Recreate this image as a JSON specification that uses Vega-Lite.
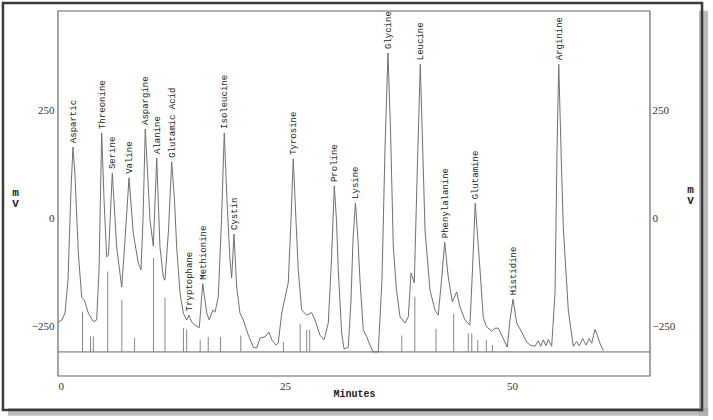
{
  "$schema": "https://vega.github.io/schema/vega-lite/v6.json",
  "width": 592,
  "height": 365,
  "autosize": {"type": "none"},
  "padding": {"left": 58, "top": 11, "right": 63, "bottom": 44},
  "background": "white",
  "config": {
    "view": {"stroke": null},
    "axis": {"grid": false, "ticks": false, "domain": false,
             "labelFont": "Liberation Serif", "labelFontSize": 11, "labelColor": "#333",
             "titleFont": "Liberation Mono", "titleFontWeight": "bold", "titleFontSize": 10, "titleColor": "#222"}
  },
  "datasets": {
    "shadow": [
      {"x1": 70.6, "x2": 71.6, "y1": 480, "y2": -458},
      {"x1": -5.5, "x2": 71.6, "y1": -440, "y2": -458}
    ],
    "one": [{"id": 1}],
    "trace": [
      {"t":0,"v":-241},{"t":0.44,"v":-236},{"t":0.77,"v":-220},{"t":1.10,"v":-144},{"t":1.43,"v":65},{"t":1.65,"v":164},{"t":1.87,"v":100},{"t":2.24,"v":-81},{"t":2.61,"v":-183},{"t":2.90,"v":-190},
      {"t":3.34,"v":-220},{"t":3.89,"v":-240},{"t":4.26,"v":-236},{"t":4.52,"v":-120},{"t":4.81,"v":197},{"t":5.07,"v":42},{"t":5.36,"v":-90},{"t":5.56,"v":-86},{"t":5.98,"v":104},{"t":6.46,"v":-67},
      {"t":7.02,"v":-160},{"t":7.38,"v":-51},{"t":7.82,"v":93},{"t":8.29,"v":-35},{"t":8.84,"v":-104},{"t":9.14,"v":-120},{"t":9.36,"v":-5},{"t":9.61,"v":206},{"t":9.91,"v":88},{"t":10.13,"v":-5},
      {"t":10.50,"v":-65},{"t":10.87,"v":139},{"t":11.23,"v":-67},{"t":11.60,"v":-137},{"t":11.78,"v":-144},{"t":12.17,"v":-28},{"t":12.52,"v":130},{"t":12.83,"v":42},{"t":13.07,"v":-67},{"t":13.44,"v":-174},
      {"t":13.80,"v":-220},{"t":14.17,"v":-236},{"t":14.43,"v":-225},{"t":14.72,"v":-241},{"t":15.09,"v":-248},{"t":15.56,"v":-254},{"t":15.94,"v":-152},{"t":16.38,"v":-220},{"t":16.66,"v":-236},{"t":17.04,"v":-213},
      {"t":17.29,"v":-218},{"t":17.65,"v":-183},{"t":18.01,"v":-5},{"t":18.31,"v":197},{"t":18.61,"v":42},{"t":18.94,"v":-97},{"t":19.13,"v":-139},{"t":19.38,"v":-37},{"t":19.68,"v":-160},{"t":20.04,"v":-220},
      {"t":20.41,"v":-236},{"t":20.96,"v":-271},{"t":21.51,"v":-299},{"t":21.88,"v":-301},{"t":22.25,"v":-278},{"t":22.80,"v":-275},{"t":23.24,"v":-264},{"t":23.54,"v":-282},{"t":24.01,"v":-294},{"t":24.26,"v":-289},
      {"t":24.64,"v":-220},{"t":25.11,"v":-174},{"t":25.36,"v":-150},{"t":25.66,"v":-5},{"t":25.91,"v":137},{"t":26.21,"v":-5},{"t":26.46,"v":-120},{"t":26.84,"v":-213},{"t":27.39,"v":-225},{"t":27.94,"v":-219},
      {"t":28.30,"v":-236},{"t":28.85,"v":-271},{"t":29.30,"v":-282},{"t":29.77,"v":-243},{"t":30.12,"v":-97},{"t":30.43,"v":74},{"t":30.67,"v":-5},{"t":30.87,"v":-120},{"t":31.24,"v":-266},{"t":31.50,"v":-303},
      {"t":31.97,"v":-299},{"t":32.27,"v":-190},{"t":32.49,"v":-51},{"t":32.76,"v":35},{"t":33.04,"v":-51},{"t":33.26,"v":-144},{"t":33.62,"v":-259},{"t":34.00,"v":-275},{"t":34.36,"v":-294},{"t":34.72,"v":-310},
      {"t":35.27,"v":-310},{"t":35.68,"v":-144},{"t":36.01,"v":157},{"t":36.34,"v":382},{"t":36.62,"v":204},{"t":36.93,"v":-67},{"t":37.28,"v":-167},{"t":37.67,"v":-229},{"t":38.22,"v":-243},{"t":38.58,"v":-229},
      {"t":38.88,"v":-127},{"t":39.24,"v":-150},{"t":39.54,"v":88},{"t":39.90,"v":356},{"t":40.14,"v":181},{"t":40.42,"v":-28},{"t":40.97,"v":-167},{"t":41.52,"v":-213},{"t":41.88,"v":-225},{"t":42.24,"v":-144},
      {"t":42.59,"v":-56},{"t":42.98,"v":-137},{"t":43.43,"v":-194},{"t":43.91,"v":-171},{"t":44.27,"v":-206},{"t":44.82,"v":-236},{"t":45.37,"v":-248},{"t":45.65,"v":-120},{"t":45.95,"v":34},{"t":46.20,"v":-39},
      {"t":46.48,"v":-120},{"t":46.84,"v":-231},{"t":47.21,"v":-252},{"t":47.76,"v":-262},{"t":48.13,"v":-255},{"t":48.49,"v":-255},{"t":48.87,"v":-271},{"t":49.48,"v":-299},{"t":49.78,"v":-236},{"t":50.11,"v":-188},
      {"t":50.52,"v":-243},{"t":51.07,"v":-264},{"t":51.62,"v":-287},{"t":51.98,"v":-294},{"t":52.53,"v":-297},{"t":52.90,"v":-284},{"t":53.16,"v":-297},{"t":53.45,"v":-282},{"t":53.74,"v":-296},{"t":54.00,"v":-281},
      {"t":54.37,"v":-297},{"t":54.74,"v":-174},{"t":54.96,"v":157},{"t":55.15,"v":356},{"t":55.40,"v":157},{"t":55.65,"v":-21},{"t":56.20,"v":-213},{"t":56.75,"v":-297},{"t":57.13,"v":-286},{"t":57.41,"v":-296},
      {"t":57.79,"v":-279},{"t":58.15,"v":-294},{"t":58.51,"v":-279},{"t":58.78,"v":-290},{"t":59.14,"v":-258},{"t":59.39,"v":-271},{"t":59.69,"v":-290},{"t":60.06,"v":-307}
    ],
    "peaks": [
      {"name":"Aspartic","t":1.65,"v":164},{"name":"Threonine","t":4.81,"v":197},{"name":"Serine","t":5.98,"v":104},{"name":"Valine","t":7.82,"v":93},
      {"name":"Aspargine","t":9.61,"v":206},{"name":"Alanine","t":10.87,"v":139},{"name":"Glutamic Acid","t":12.52,"v":130},{"name":"Tryptophane","t":14.43,"v":-225},
      {"name":"Methionine","t":15.94,"v":-152},{"name":"Isoleucine","t":18.31,"v":197},{"name":"Cystin","t":19.38,"v":-37},{"name":"Tyrosine","t":25.91,"v":137},
      {"name":"Proline","t":30.43,"v":74},{"name":"Lysine","t":32.76,"v":35},{"name":"Glycine","t":36.34,"v":382},{"name":"Leucine","t":39.90,"v":356},
      {"name":"Phenylalanine","t":42.59,"v":-56},{"name":"Glutamine","t":45.95,"v":34},{"name":"Histidine","t":50.11,"v":-188},{"name":"Arginine","t":55.15,"v":356}
    ],
    "marks": [
      {"t":2.70,"top":-217},{"t":3.58,"top":-274},{"t":3.89,"top":-274},{"t":5.47,"top":-124},{"t":7.03,"top":-190},{"t":8.43,"top":-278},
      {"t":10.52,"top":-93},{"t":11.78,"top":-184},{"t":13.82,"top":-255},{"t":14.17,"top":-259},{"t":15.66,"top":-282},{"t":16.55,"top":-275},
      {"t":17.90,"top":-275},{"t":20.13,"top":-272},{"t":24.83,"top":-287},{"t":26.67,"top":-245},{"t":27.39,"top":-259},{"t":27.72,"top":-259},
      {"t":37.86,"top":-272},{"t":39.30,"top":-182},{"t":41.63,"top":-256},{"t":43.58,"top":-222},{"t":45.19,"top":-267},{"t":45.57,"top":-267},
      {"t":46.23,"top":-282},{"t":47.17,"top":-282},{"t":47.85,"top":-294}
    ]
  },
  "resolve": {"scale": {"x": "shared", "y": "shared"}, "axis": {"x": "independent", "y": "independent"}},
  "layer": [
    {
      "data": {"name": "shadow"},
      "mark": {"type": "rect", "clip": false, "fill": "#aaaaaa", "opacity": 0.8},
      "encoding": {
        "x": {"field": "x1", "type": "quantitative", "scale": {"domain": [0, 65.2], "nice": false, "zero": false}, "axis": null},
        "x2": {"field": "x2"},
        "y": {"field": "y1", "type": "quantitative", "scale": {"domain": [-365.7, 479.2], "nice": false, "zero": false}, "axis": null},
        "y2": {"field": "y2"}
      }
    },
    {
      "data": {"name": "one"},
      "mark": {"type": "rect", "clip": false, "fillOpacity": 0, "stroke": "#3a3a3a", "strokeWidth": 2.5},
      "encoding": {
        "x": {"datum": -6.06, "type": "quantitative", "axis": null},
        "x2": {"datum": 70.93},
        "y": {"datum": 497.7, "type": "quantitative", "axis": null},
        "y2": {"datum": -444.4}
      }
    },
    {
      "data": {"name": "one"},
      "mark": {"type": "rect", "fillOpacity": 0, "stroke": "#666", "strokeWidth": 1.2},
      "encoding": {
        "x": {"datum": 0, "type": "quantitative", "axis": null},
        "x2": {"datum": 65.2},
        "y": {"datum": 479.2, "type": "quantitative", "axis": null},
        "y2": {"datum": -365.7}
      }
    },
    {
      "data": {"name": "one"},
      "mark": {"type": "rule", "stroke": "#666", "strokeWidth": 1},
      "encoding": {
        "y": {"datum": -310, "type": "quantitative", "axis": {"orient": "right", "values": [-250, 0, 250], "labelFont": "Liberation Serif", "labelPadding": 2, "labelAlign": "left", "title": ["m", "V"], "titleAngle": 0, "titleX": 40, "titleY": 172, "titleAlign": "center", "titleBaseline": "top", "titleLineHeight": 11, "titleFontSize": 11}}
      }
    },
    {
      "data": {"name": "marks"},
      "mark": {"type": "rule", "stroke": "#888", "strokeWidth": 1},
      "encoding": {
        "x": {"field": "t", "type": "quantitative", "axis": null},
        "y": {"field": "top", "type": "quantitative", "axis": null},
        "y2": {"datum": -310}
      }
    },
    {
      "data": {"name": "trace"},
      "mark": {"type": "line", "stroke": "#707070", "strokeWidth": 1},
      "encoding": {
        "x": {"field": "t", "type": "quantitative", "axis": {"orient": "bottom", "values": [0, 25, 50], "labelFont": "Liberation Serif", "labelPadding": 4, "title": "Minutes", "titleY": 17, "titleBaseline": "middle"}},
        "y": {"field": "v", "type": "quantitative", "axis": {"orient": "left", "values": [-250, 0, 250], "labelFont": "Liberation Serif", "labelPadding": 4, "title": ["m", "V"], "titleAngle": 0, "titleX": -43, "titleY": 175, "titleAlign": "center", "titleBaseline": "top", "titleLineHeight": 11, "titleFontSize": 11}}
      }
    },
    {
      "data": {"name": "peaks"},
      "mark": {"type": "text", "angle": 270, "align": "left", "baseline": "middle", "dx": 4, "font": "Liberation Mono", "fontSize": 9, "fill": "#222"},
      "encoding": {
        "x": {"field": "t", "type": "quantitative", "axis": null},
        "y": {"field": "v", "type": "quantitative", "axis": null},
        "text": {"field": "name"}
      }
    }
  ]
}
